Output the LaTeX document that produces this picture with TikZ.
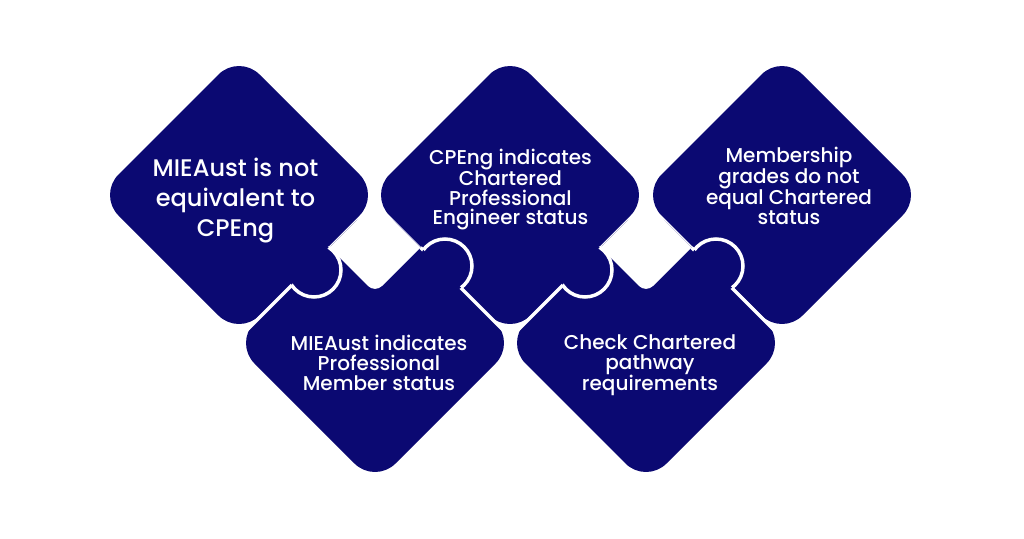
\documentclass[tikz,border=0pt]{standalone}
\usepackage{fontspec}
\setmainfont{Poppins Medium}
\definecolor{piecenavy}{RGB}{11,9,114}
\tikzset{
  piece/.style={fill=piecenavy, rounded corners=29pt},
  seam/.style={draw=white, line width=3.5pt, line cap=butt},
  knobfill/.style={fill=piecenavy},
  knobline/.style={draw=white, line width=3.5pt},
  notchfill/.style={fill=white},
  bigtxt/.style={text=white, align=center, font=\fontsize{24}{30}\selectfont},
  txt/.style={text=white, align=center, font=\fontsize{20}{19.7}\selectfont},
}
\newcommand\diamondpiece[2]{\fill[piece] (#1,#2-141) -- (#1+141,#2) -- (#1,#2+141) -- (#1-141,#2) -- cycle;}
\newcommand\notchcut[1]{\fill[notchfill] (#1,202) -- (#1-45.5,247.5) -- (#1-7.07,285.93) .. controls (#1-3.16,289.83) and (#1+3.16,289.83) .. (#1+7.07,285.93) -- (#1+45.5,247.5) -- cycle;}
\begin{document}
\begin{tikzpicture}[x=1pt,y=-1pt]
\fill[white] (0,0) rectangle (1024,538);
\useasboundingbox (0,0) rectangle (1024,538);
% pieces
\diamondpiece{375}{343}
\diamondpiece{646}{343}
\diamondpiece{239}{195}
\diamondpiece{510}{195}
\diamondpiece{782}{195}
% seam coordinates
\coordinate (nl2) at (329.5,247.5);
\coordinate (nr2) at (420.5,247.5);
\coordinate (nl4) at (600.5,247.5);
\coordinate (nr4) at (691.5,247.5);
\coordinate (e12) at (230.5,346.5);
\coordinate (e23) at (505.5,332.5);
\coordinate (e34) at (515.5,332.5);
\coordinate (e45) at (776.5,332.5);
\draw[seam] (nl2) -- (e12);
\draw[seam] (nr2) -- (e23);
\draw[seam] (nl4) -- (e34);
\draw[seam] (nr4) -- (e45);
% knobs
\coordinate (k1) at (314,270);
\coordinate (k2) at (445,266);
\coordinate (k3) at (585,270);
\coordinate (k4) at (716,266);
\fill[knobfill] (k1) circle[radius=27pt];
\fill[knobfill] (k2) circle[radius=27pt];
\fill[knobfill] (k3) circle[radius=27pt];
\fill[knobfill] (k4) circle[radius=27pt];
\begin{scope}
  \clip (376,200) -- (276,300) -- (376,400) -- (476,300) -- cycle;
  \draw[knobline] (k1) circle[radius=27pt];
\end{scope}
\begin{scope}
  \clip (400,226.5) -- (500,326.5) -- (600,226.5) -- (500,126.5) -- cycle;
  \draw[knobline] (k2) circle[radius=27pt];
\end{scope}
\begin{scope}
  \clip (647,200) -- (547,300) -- (647,400) -- (747,300) -- cycle;
  \draw[knobline] (k3) circle[radius=27pt];
\end{scope}
\begin{scope}
  \clip (671,226.5) -- (771,326.5) -- (871,226.5) -- (771,126.5) -- cycle;
  \draw[knobline] (k4) circle[radius=27pt];
\end{scope}
% notches
\notchcut{375}
\notchcut{646}
% texts
\node[bigtxt] (t1) at (235.5,201) {MIEAust is not\\equivalent to\\CPEng};
\node[txt] (t2) at (379,363) {MIEAust indicates\\Professional\\Member status};
\node[txt] (t3) at (510.5,189.5) {CPEng indicates\\Chartered\\Professional\\Engineer status};
\node[txt] (t4) at (650,365.5) {Check Chartered\\pathway\\requirements};
\node[txt] (t5) at (789,186) {Membership\\grades do not\\equal Chartered\\status};
\end{tikzpicture}
\end{document}
